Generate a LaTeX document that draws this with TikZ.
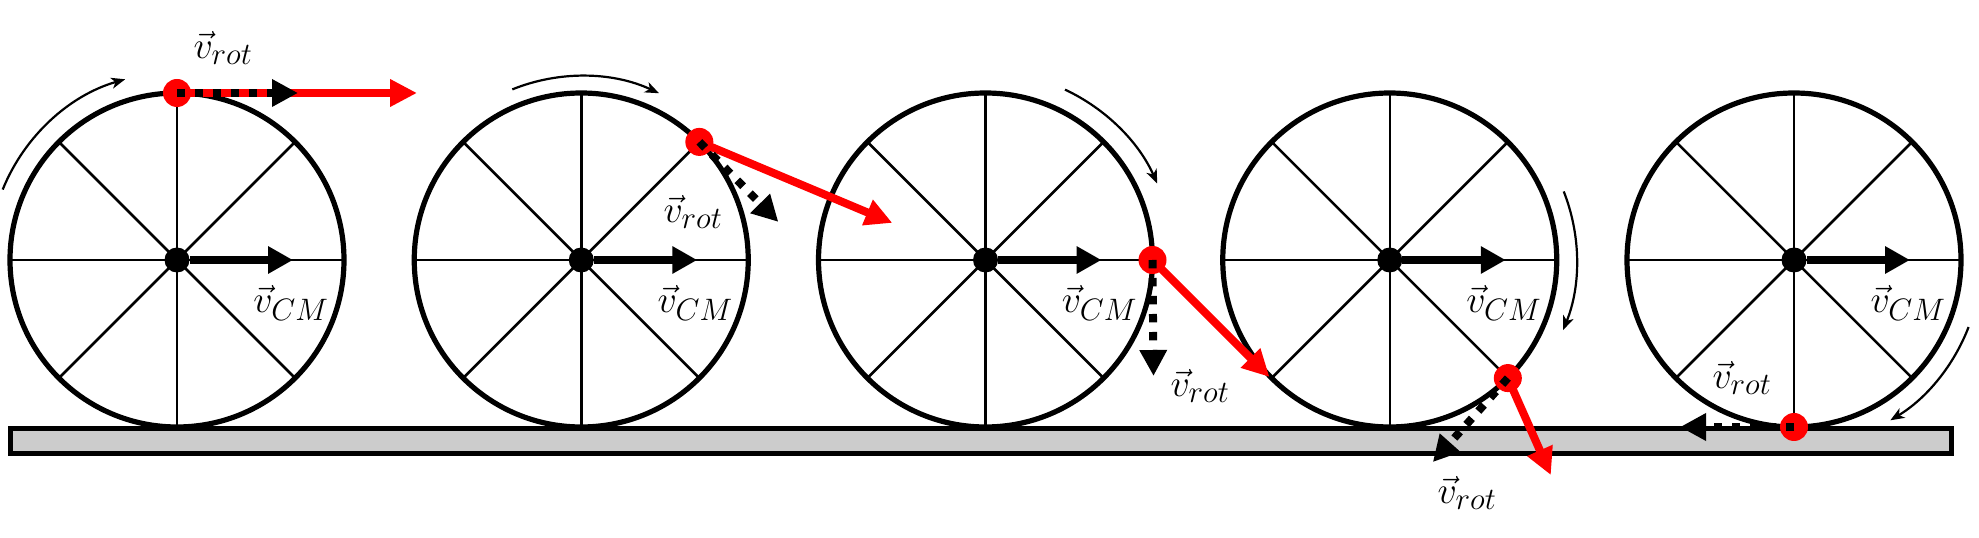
\RequirePackage{fix-cm}
\documentclass[tikz,border=0pt]{standalone}
\usepackage{amsmath}
\usepackage{tikz}
\usetikzlibrary{arrows.meta, positioning, calc}
\DeclareMathSizes{38}{38}{31}{24}
\tikzset{
  wh_rim/.style = {draw=black, line width=5.2pt},
  wh_spoke/.style = {draw=black, line width=2.5pt},
  wh_hub/.style = {circle, fill=black, inner sep=0pt, minimum size=25pt},
  wh_spin/.style = {line width=2.2pt, -{Stealth[length=14pt,width=11pt,inset=4pt]}},
  pt_red/.style = {circle, fill=red, inner sep=0pt, minimum size=28pt},
  vec_cm/.style = {line width=8pt, -{Triangle[length=25pt,width=26pt]}},
  vec_rot/.style = {line width=8pt, dash pattern=on 8.3pt off 9.7pt, -{Triangle[length=26pt,width=26pt]}},
  vec_sum/.style = {red, line width=8pt, -{Triangle[length=27pt,width=26pt]}},
  vec_lbl/.style = {inner sep=0pt, font=\fontsize{38}{42}\selectfont},
  ground/.style = {draw=black, fill=black!20, line width=5pt}
}

\begin{document}
\begin{tikzpicture}[x=1pt,y=1pt]
  \useasboundingbox (0,0) rectangle (1979,538);
  \draw[ground] (10,84) rectangle (1951.5,109);
  \foreach \i/\x in {1/177,2/581.25,3/985.5,4/1389.75,5/1794} {
    \coordinate (c\i) at (\x,278);
    \foreach \a in {0,45,...,315}
      \draw[wh_spoke] (c\i) -- ++(\a:167);
    \draw[wh_rim] (c\i) circle[radius=167];
    \node[wh_hub] (h\i) at (c\i) {};
    \coordinate (cm\i) at ($(c\i)+(116,0)$);
    \draw[vec_cm] (h\i) -- (cm\i);
    \node[vec_lbl] (lcm\i) at ($(c\i)+(114,-43)$) {$\vec{v}_{CM}$};
  }
  \foreach \i/\r/\s/\e in {1/188/158/106,2/184/112/65,3/188/65/24,4/187/21.5/-22,5/187/-21/-59}
    \draw[wh_spin] ($(c\i)+(\s:\r)$) arc[start angle=\s, end angle=\e, radius=\r];
  \foreach \i/\a/\rx/\ry/\sx/\sy in {1/90/121/0/240/0,2/45/79/-80/193/-81,3/0/1/-116/117/-117,4/-45/-75/-84/43/-97} {
    \node[pt_red] (p\i) at ($(c\i)+(\a:167)$) {};
    \coordinate (s\i) at ($(p\i)+(\sx,\sy)$);
    \coordinate (r\i) at ($(p\i)+(\rx,\ry)$);
    \draw[vec_sum] (p\i.center) -- (s\i);
    \draw[vec_rot] (p\i.center) -- (r\i);
  }
  \node[pt_red] (p5) at ($(c5)+(-90:167)$) {};
  \coordinate (r5) at ($(p5)+(-114,0)$);
  \draw[vec_rot] (p5.center) -- (r5);
  \node[vec_lbl] (lrot1) at (223,490) {$\vec{v}_{rot}$};
  \node[vec_lbl] (lrot2) at (693,326) {$\vec{v}_{rot}$};
  \node[vec_lbl] (lrot3) at (1200,152) {$\vec{v}_{rot}$};
  \node[vec_lbl] (lrot4) at (1467,45) {$\vec{v}_{rot}$};
  \node[vec_lbl] (lrot5) at (1742,160) {$\vec{v}_{rot}$};
\end{tikzpicture}
\end{document}
